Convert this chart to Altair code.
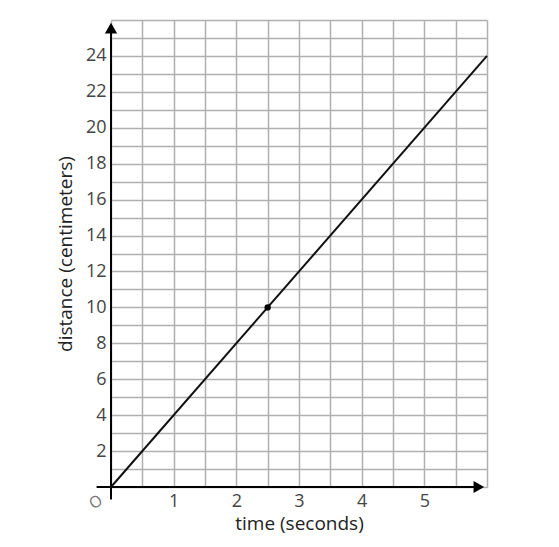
import altair as alt
import pandas as pd

# data
line_x = [0, 6]
line_y = [0, 24]
pt_x = [2.5]
pt_y = [10]
x_ticks = [i * 0.5 for i in range(13)]
y_ticks = list(range(27))

line_df = pd.DataFrame({"x": line_x, "y": line_y})
pt_df = pd.DataFrame({"x": pt_x, "y": pt_y})

FONT = "Open Sans"
xs = alt.Scale(domain=[0, 6], nice=False, zero=False)
ys = alt.Scale(domain=[0, 26], nice=False, zero=False)

xaxis = alt.Axis(values=x_ticks,
                 labelExpr="(datum.value % 1 == 0 && datum.value > 0 && datum.value < 6) ? format(datum.value, 'd') : ''",
                 labelFontSize=18, labelFont=FONT,
                 title="time (seconds)", titlePadding=4, labelPadding=5)
yaxis = alt.Axis(values=y_ticks,
                 labelExpr="(datum.value % 2 == 0 && datum.value > 0 && datum.value < 26) ? format(datum.value, 'd') : ''",
                 labelFontSize=18, labelFont=FONT,
                 title="distance (centimeters)", titlePadding=10, labelPadding=5)

def X(f):
    return alt.X(f, scale=xs, axis=xaxis)

def Y(f):
    return alt.Y(f, scale=ys, axis=yaxis)

base = alt.Chart(line_df).mark_line(color="#111", strokeWidth=2, clip=False).encode(
    x=X("x:Q"), y=Y("y:Q"))

# axis lines
xaxis_line = alt.Chart(pd.DataFrame({"x": [-0.23], "x2": [5.9], "y": [0]})).mark_rule(
    color="#000", strokeWidth=2, clip=False).encode(x=X("x:Q"), x2="x2:Q", y=Y("y:Q"))
yaxis_line = alt.Chart(pd.DataFrame({"x": [0], "y": [-0.7], "y2": [25.6]})).mark_rule(
    color="#000", strokeWidth=2, clip=False).encode(x=X("x:Q"), y=Y("y:Q"), y2="y2:Q")

arrow_up = alt.Chart(pd.DataFrame({"x": [0], "y": [25.55]})).mark_point(
    shape="triangle-up", filled=True, color="#000", size=150, opacity=1, clip=False).encode(
    x=X("x:Q"), y=Y("y:Q"))
arrow_right = alt.Chart(pd.DataFrame({"x": [5.87], "y": [0]})).mark_point(
    shape="triangle-right", filled=True, color="#000", size=150, opacity=1, clip=False).encode(
    x=X("x:Q"), y=Y("y:Q"))

pt = alt.Chart(pt_df).mark_circle(color="#000", size=40, opacity=1).encode(
    x=X("x:Q"), y=Y("y:Q"))

origin = alt.Chart(pd.DataFrame({"x": [-0.24], "y": [-0.85], "t": ["O"]})).mark_text(
    font=FONT, fontSize=16, color="#777", clip=False, angle=330).encode(
    x=X("x:Q"), y=Y("y:Q"), text="t:N")

chart = alt.layer(base, xaxis_line, yaxis_line, arrow_up, arrow_right, pt, origin).properties(
    width=376, height=467,
    autosize=alt.AutoSizeParams(type="none"),
    padding={"left": 103, "top": 12, "right": 50, "bottom": 50},
).configure_view(stroke=None).configure(background="white").configure_axis(
    grid=True, gridColor="#b0b0b0", gridWidth=1.5, domain=False, ticks=False,
    labelOverlap=False, labelFont=FONT, labelFontSize=18, labelColor="#444",
    titleFont=FONT, titleFontSize=19, titleFontWeight="normal", titleColor="#222",
)

chart.save("out.html", embed_options={"renderer": "svg", "actions": False})
